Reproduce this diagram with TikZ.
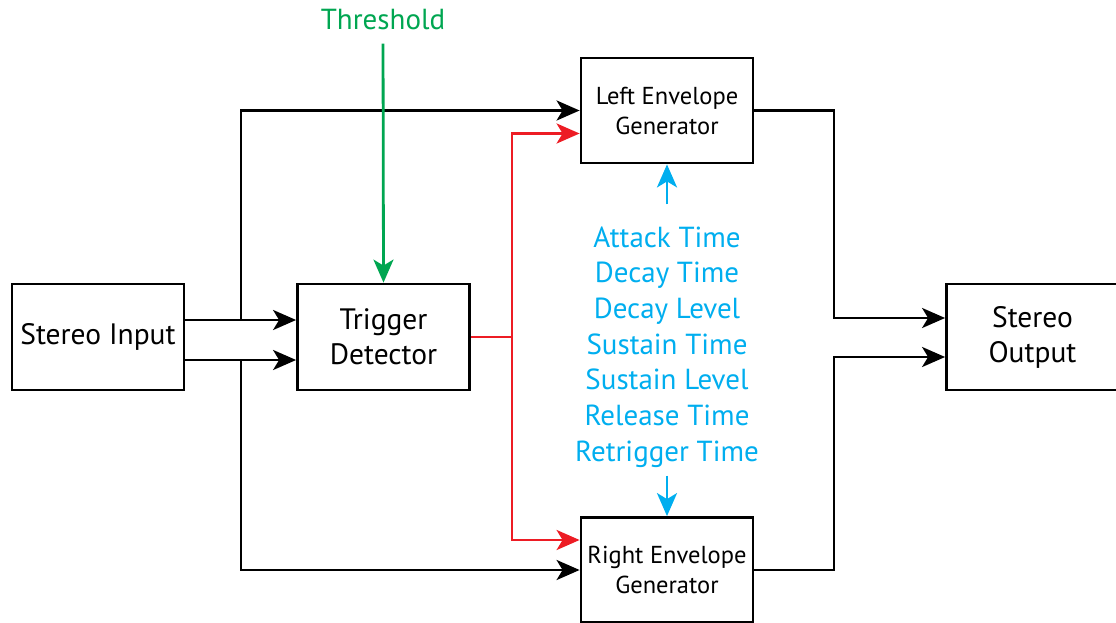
\documentclass[tikz,border=0pt]{standalone}
\usepackage{fontspec}
\setmainfont{PT Sans}
\usetikzlibrary{arrows.meta,positioning}
\definecolor{trigred}{RGB}{237,28,36}
\definecolor{threshgreen}{RGB}{0,166,81}
\definecolor{parblue}{RGB}{0,174,239}

\begin{document}
\begin{tikzpicture}[
x=1pt, y=-1pt,
block/.style={draw, line width=2.8pt, align=center, inner sep=0pt, minimum width=172pt, minimum height=106pt, font=\fontsize{29.5}{35}\selectfont},
envblock/.style={block, minimum height=105pt, font=\fontsize{24.5}{30}\selectfont},
label/.style={align=center, inner sep=0pt},
arrow/.style={-{Stealth[length=23pt, width=20pt, inset=6pt]}, line width=2.8pt}
]
\useasboundingbox (0,0) rectangle (1116,623);

\node[block] (in) at (98,337) {Stereo Input};
\node[block] (trig) at (383.5,337) {Trigger\\Detector};
\node[envblock] (lenv) at (667,110.5) {Left Envelope\\Generator};
\node[envblock] (renv) at (667,570) {Right Envelope\\Generator};
\node[block] (out) at (1032.5,337) {Stereo\\Output};

\node[label, text=threshgreen, font=\fontsize{29}{32}\selectfont] (thr) at (383,20) {Threshold};
\node[label, text=parblue, font=\fontsize{29}{35.7}\selectfont] (par) at (667,347)
  {Attack Time\\Decay Time\\Decay Level\\Sustain Time\\Sustain Level\\Release Time\\Retrigger Time};

\coordinate (tapA) at (241,320);
\coordinate (tapB) at (241,360);
\coordinate (fork) at (512,337);
\coordinate (joinA) at (834,318);
\coordinate (joinB) at (834,357);

% stereo feed into the detector and both envelopes
\draw[arrow] ([yshift=17pt]in.east) -- ([yshift=17pt]trig.west);
\draw[arrow] ([yshift=-23pt]in.east) -- ([yshift=-23pt]trig.west);
\draw[arrow] (tapA) |- (lenv.west);
\draw[arrow] (tapB) |- (renv.west);

% trigger lines
\draw[line width=2.8pt, trigred] (trig.east) -- (fork);
\draw[arrow, trigred] (fork) |- ([yshift=-23pt]lenv.west);
\draw[arrow, trigred] (fork) |- ([yshift=30pt]renv.west);

% controls
\draw[arrow, threshgreen, shorten <=13pt] (thr.south) -- (trig.north);
\draw[arrow, parblue, shorten <=22pt] (par.north) -- (lenv.south);
\draw[arrow, parblue, shorten <=8pt] (par.south) -- (renv.north);

% envelopes out
\draw[arrow] (lenv.east) -| (joinA) -- ([yshift=19pt]out.west);
\draw[arrow] (renv.east) -| (joinB) -- ([yshift=-20pt]out.west);
\end{tikzpicture}
\end{document}
